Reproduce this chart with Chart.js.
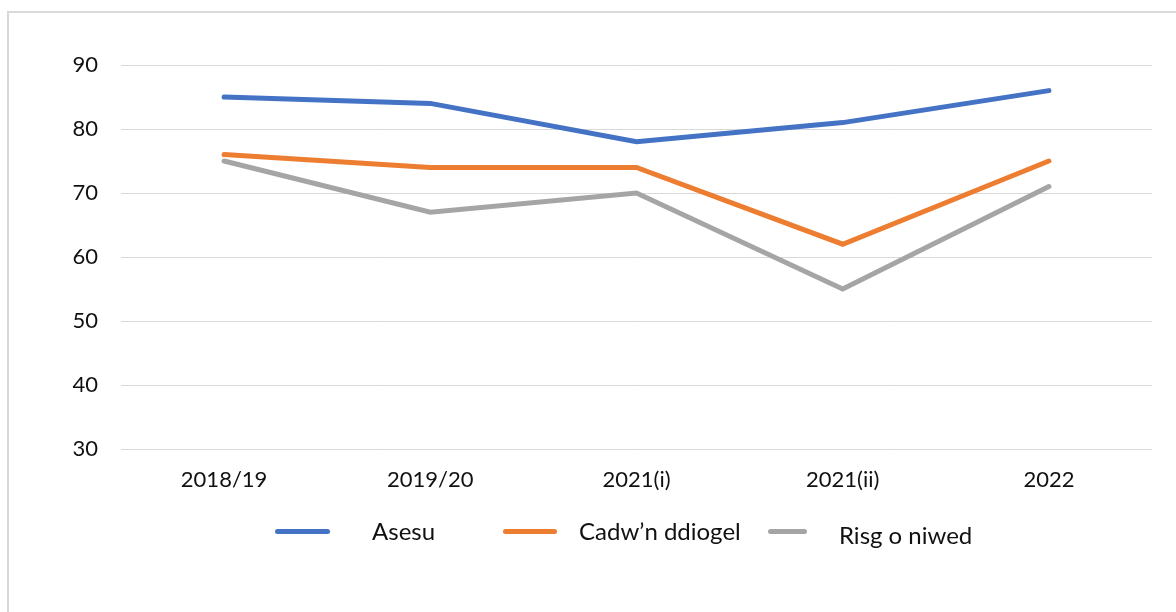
<!DOCTYPE html>
<html>
<head>
<meta charset="utf-8">
<script src="https://cdn.jsdelivr.net/npm/chart.js@4.4.1/dist/chart.umd.min.js"></script>
<style>
  html, body { margin: 0; padding: 0; background: #fff; }
  #wrap { position: relative; width: 1176px; height: 612px; overflow: hidden; }
  #frame { position: absolute; left: 7px; top: 11px; right: -10px; bottom: -10px; border: 2px solid #d9d9d9; box-sizing: border-box; pointer-events: none; }
  canvas { position: absolute; left: 0; top: 0; }
  .lg-line { position: absolute; height: 5px; border-radius: 3px; }
  .lg-text { position: absolute; font-family: Lato, "Open Sans", sans-serif; font-size: 24px; color: #111; white-space: nowrap; line-height: 1; }
</style>
</head>
<body>
<div id="wrap">
  <canvas id="c" width="1176" height="612"></canvas>
  <div id="frame"></div>
  <div id="legend"></div>
</div>
<script>
const categories = ["2018/19", "2019/20", "2021(i)", "2021(ii)", "2022"];
const seriesNames = ["Asesu", "Cadw\u2019n ddiogel", "Risg o niwed"];
const asesu = [85, 84, 78, 81, 86];
const cadwnDdiogel = [76, 74, 74, 62, 75];
const risgONiwed = [75, 67, 70, 55, 71];
const seriesColors = ["#4472C4", "#ED7D31", "#A5A5A5"];
const yTicks = [30, 40, 50, 60, 70, 80, 90];

const seriesValues = [asesu, cadwnDdiogel, risgONiwed];
const datasets = seriesNames.map((name, i) => ({
  label: name,
  data: seriesValues[i],
  borderColor: seriesColors[i],
  backgroundColor: seriesColors[i],
  borderWidth: 5,
  borderCapStyle: 'round',
  borderJoinStyle: 'miter',
  pointRadius: 0,
  pointHoverRadius: 0,
  tension: 0,
  fill: false
}));

const tickFont = { family: "Lato, 'Open Sans', sans-serif", size: 22 };

new Chart(document.getElementById('c'), {
  type: 'line',
  data: { labels: categories, datasets },
  options: {
    responsive: false,
    animation: false,
    devicePixelRatio: 1,
    layout: { padding: { left: 0, right: 24, top: 65, bottom: 113 } },
    plugins: { legend: { display: false }, tooltip: { enabled: false } },
    scales: {
      x: {
        offset: true,
        grid: { display: false, drawTicks: false },
        border: { display: false },
        ticks: { color: '#111', font: tickFont, padding: 18, maxRotation: 0 },
        afterFit: (s) => { s.height = 50; }
      },
      y: {
        min: 30, max: 90,
        afterBuildTicks: (s) => { s.ticks = yTicks.map(v => ({ value: v })); },
        grid: { color: '#d9d9d9', lineWidth: 1, drawTicks: false },
        border: { display: false },
        ticks: { color: '#111', font: tickFont, padding: 23 },
        afterFit: (s) => { s.width = 121; }
      }
    }
  }
});

// Legend (HTML, below the plot, as in the reference)
const legendLayout = [
  { lineX: 275, lineW: 55, textX: 372, textTop: 519 },
  { lineX: 503, lineW: 54, textX: 579, textTop: 519 },
  { lineX: 768, lineW: 39, textX: 839, textTop: 523 }
];
const lg = document.getElementById('legend');
seriesNames.forEach((name, i) => {
  const L = legendLayout[i];
  const line = document.createElement('div');
  line.className = 'lg-line';
  line.style.left = L.lineX + 'px';
  line.style.top = '529px';
  line.style.width = L.lineW + 'px';
  line.style.background = seriesColors[i];
  lg.appendChild(line);
  const t = document.createElement('div');
  t.className = 'lg-text';
  t.style.left = L.textX + 'px';
  t.style.top = L.textTop + 'px';
  t.textContent = name;
  lg.appendChild(t);
});
</script>
</body>
</html>
